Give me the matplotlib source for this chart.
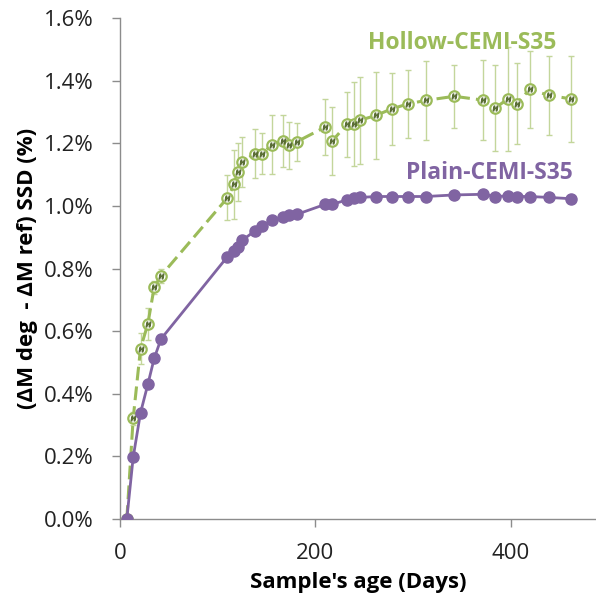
import matplotlib
matplotlib.use("Agg")
import matplotlib.pyplot as plt
from matplotlib.ticker import FuncFormatter

# Data (days, % mass change)

days = [7, 13.5, 21, 28.5, 35, 42, 110, 117, 121, 125, 138, 145, 156, 167,
        173, 181, 210, 217, 232, 239, 246, 262, 278, 295, 313, 342, 371, 384,
        397, 406, 419, 439, 461]

plain = [0.0, 0.197, 0.339, 0.430, 0.513, 0.575, 0.838, 0.856, 0.870, 0.890,
         0.920, 0.936, 0.954, 0.963, 0.971, 0.973, 1.005, 1.005, 1.019, 1.024,
         1.027, 1.030, 1.030, 1.030, 1.030, 1.035, 1.037, 1.030, 1.032, 1.030,
         1.030, 1.027, 1.023]

hollow = [0.0, 0.321, 0.544, 0.623, 0.740, 0.777, 1.026, 1.069, 1.109, 1.140,
          1.167, 1.167, 1.196, 1.207, 1.193, 1.205, 1.252, 1.207, 1.260, 1.262,
          1.274, 1.289, 1.310, 1.326, 1.337, 1.350, 1.338, 1.313, 1.342, 1.327,
          1.372, 1.353, 1.342]

hollow_err = [0.0, 0.02, 0.05, 0.05, 0.02, 0.022, 0.072, 0.11, 0.093, 0.08,
              0.079, 0.065, 0.095, 0.082, 0.076, 0.061, 0.088, 0.109, 0.104,
              0.133, 0.139, 0.140, 0.115, 0.108, 0.126, 0.101, 0.128, 0.137,
              0.166, 0.129, 0.123, 0.125, 0.138]

green = "#9bbb59"
green_err = "#c3d69b"
purple = "#8064a2"
axis_grey = "#8c8c8c"

plt.rcParams["font.family"] = ["Open Sans", "DejaVu Sans"]

fig = plt.figure(figsize=(5.96, 6.03), dpi=100)
ax = fig.add_axes([0.2013, 0.1393, 0.7987, 0.8308])

# Hollow series: error bars, dashed line, open markers
ax.errorbar(days, hollow, yerr=hollow_err, fmt="none", ecolor=green_err,
            elinewidth=1.0, capsize=2, capthick=1.0, zorder=2)
ax.plot(days, hollow, color=green, lw=2.2, dashes=(4.5, 2), marker="o",
        markersize=7.5, markerfacecolor="white", markeredgecolor=green,
        markeredgewidth=1.6, zorder=3)
ax.plot(days[1:], hollow[1:], linestyle="none", marker="$H$", markersize=3.5,
        color="#5a6e35", zorder=4)

# Plain series
ax.plot(days, plain, color=purple, lw=2.0, marker="o", markersize=8,
        markerfacecolor=purple, markeredgecolor=purple, zorder=5)

ax.text(350, 1.52, "Hollow-CEMI-S35", color=green, fontsize=16.5,
        fontweight="bold", ha="center", va="center")
ax.text(378, 1.105, "Plain-CEMI-S35", color=purple, fontsize=16.5,
        fontweight="bold", ha="center", va="center")

ax.set_xlim(0, 487)
ax.set_ylim(0, 1.6)
ax.set_xticks([0, 200, 400])
ax.set_yticks([0.0, 0.2, 0.4, 0.6, 0.8, 1.0, 1.2, 1.4, 1.6])
ax.yaxis.set_major_formatter(FuncFormatter(lambda v, p: "%.1f%%" % v))

for side in ["top", "right"]:
    ax.spines[side].set_visible(False)
for side in ["left", "bottom"]:
    ax.spines[side].set_color(axis_grey)
    ax.spines[side].set_linewidth(1.0)
ax.tick_params(axis="both", direction="out", length=6, width=1.0,
               color=axis_grey, labelsize=16, labelcolor="#222222")
ax.tick_params(axis="x", pad=11)
ax.tick_params(axis="y", pad=13)

ax.set_xlabel("Sample's age (Days)", fontsize=16, fontweight="bold",
              labelpad=6)
ax.set_ylabel("(\u0394M deg  - \u0394M ref) SSD (%)", fontsize=16,
              fontweight="bold", labelpad=4)

fig.savefig("out.png", dpi=100)
plt.close(fig)
